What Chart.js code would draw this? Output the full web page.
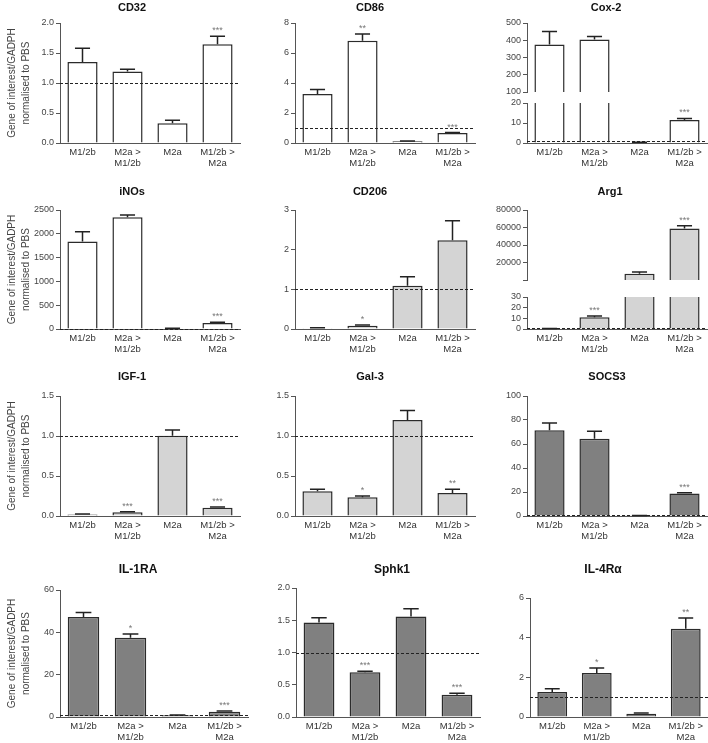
<!DOCTYPE html>
<html>
<head>
<meta charset="utf-8">
<script src="https://cdn.jsdelivr.net/npm/chart.js@4"></script>
<style>
html, body { margin: 0; padding: 0; background: #fff; }
#fig { position: relative; width: 708px; height: 743px; overflow: hidden; }
#fig canvas { position: absolute; }
</style>
</head>
<body>
<div id="fig"></div>
<script>
// categories, shared by every panel
var groups = [['M1/2b'], ['M2a >', 'M1/2b'], ['M2a'], ['M1/2b >', 'M2a']];
var yTitle = ['Gene of interest/GADPH', 'normalised to PBS'];

// CD32
var cd32Mean = [1.35, 1.19, 0.33, 1.645];
var cd32Sem = [0.23, 0.04, 0.05, 0.135];
var cd32Sig = ['', '', '', '***'];
var cd32Ticks = [0, 0.5, 1, 1.5, 2];
var cd32Labels = ['0.0', '0.5', '1.0', '1.5', '2.0'];

// CD86
var cd86Mean = [3.26, 6.82, 0.11, 0.66];
var cd86Sem = [0.3, 0.45, 0.02, 0.04];
var cd86Sig = ['', '**', '', '***'];
var cd86Ticks = [0, 2, 4, 6, 8];
var cd86Labels = ['0', '2', '4', '6', '8'];

// Cox-2 (broken axis)
var cox2Mean = [376, 405, 0.3, 11.5];
var cox2Sem = [75, 17, 0.1, 0.8];
var cox2Sig = ['', '', '', '***'];
var cox2TicksHi = [100, 200, 300, 400, 500];
var cox2LabelsHi = ['100', '200', '300', '400', '500'];
var cox2TicksLo = [0, 10, 20];
var cox2LabelsLo = ['0', '10', '20'];

// iNOs
var inosMean = [1836, 2347, 10, 126];
var inosSem = [209, 48, 6, 18];
var inosSig = ['', '', '', '***'];
var inosTicks = [0, 500, 1000, 1500, 2000, 2500];
var inosLabels = ['0', '500', '1000', '1500', '2000', '2500'];

// CD206
var cd206Mean = [0.02, 0.083, 1.09, 2.24];
var cd206Sem = [0.01, 0.017, 0.23, 0.49];
var cd206Sig = ['', '*', '', ''];
var cd206Ticks = [0, 1, 2, 3];
var cd206Labels = ['0', '1', '2', '3'];

// Arg1 (broken axis)
var arg1Mean = [0.4, 11.1, 7200, 59000];
var arg1Sem = [0.1, 1.0, 2100, 3000];
var arg1Sig = ['', '***', '', '***'];
var arg1TicksHi = [30, 20000, 40000, 60000, 80000];
var arg1LabelsHi = ['', '20000', '40000', '60000', '80000'];
var arg1TicksLo = [0, 10, 20, 30];
var arg1LabelsLo = ['0', '10', '20', '30'];

// IGF-1
var igf1Mean = [0.02, 0.046, 1.004, 0.104];
var igf1Sem = [0.005, 0.008, 0.07, 0.007];
var igf1Sig = ['', '***', '', '***'];
var igf1Ticks = [0, 0.5, 1, 1.5];
var igf1Labels = ['0.0', '0.5', '1.0', '1.5'];

// Gal-3
var gal3Mean = [0.31, 0.233, 1.2, 0.288];
var gal3Sem = [0.025, 0.017, 0.12, 0.047];
var gal3Sig = ['', '*', '', '**'];
var gal3Ticks = [0, 0.5, 1, 1.5];
var gal3Labels = ['0.0', '0.5', '1.0', '1.5'];

// SOCS3
var socs3Mean = [71.4, 64.4, 0.3, 18.8];
var socs3Sem = [6.2, 6.2, 0.1, 0.6];
var socs3Sig = ['', '', '', '***'];
var socs3Ticks = [0, 20, 40, 60, 80, 100];
var socs3Labels = ['0', '20', '40', '60', '80', '100'];

// IL-1RA
var il1raMean = [47.3, 37.5, 0.8, 2.5];
var il1raSem = [2.1, 1.7, 0.1, 0.3];
var il1raSig = ['', '*', '', '***'];
var il1raTicks = [0, 20, 40, 60];
var il1raLabels = ['0', '20', '40', '60'];

// Sphk1
var sphk1Mean = [1.466, 0.694, 1.56, 0.344];
var sphk1Sem = [0.074, 0.016, 0.12, 0.026];
var sphk1Sig = ['', '***', '', '***'];
var sphk1Ticks = [0, 0.5, 1, 1.5, 2];
var sphk1Labels = ['0.0', '0.5', '1.0', '1.5', '2.0'];

// IL-4Ra
var il4raMean = [1.26, 2.22, 0.17, 4.45];
var il4raSem = [0.17, 0.25, 0.03, 0.54];
var il4raSig = ['', '*', '', '**'];
var il4raTicks = [0, 2, 4, 6];
var il4raLabels = ['0', '2', '4', '6'];

var FONT = 'Arial, "Liberation Sans", Helvetica, sans-serif';
var WHITE = '#ffffff', LIGHT = '#d4d4d4', DARK = '#808080';
var fig = document.getElementById('fig');

// ax = y axis x, top/bot = axis ends, w = plot width, tx/ty = title centre
var panels = [
	{title: 'CD32', mean: cd32Mean, sem: cd32Sem, sig: cd32Sig, ticks: cd32Ticks, labels: cd32Labels, fill: WHITE, ax: 60, top: 23, bot: 143, w: 180, tx: 132, ty: 8, ts: 11, yTitle: true},
	{title: 'CD86', mean: cd86Mean, sem: cd86Sem, sig: cd86Sig, ticks: cd86Ticks, labels: cd86Labels, fill: WHITE, ax: 295, top: 23, bot: 143, w: 180, tx: 370, ty: 8, ts: 11},
	{title: 'Cox-2', mean: cox2Mean, sem: cox2Sem, sig: cox2Sig, ticks: cox2TicksHi, labels: cox2LabelsHi, fill: WHITE, ax: 527, top: 23, bot: 100.5, w: 180, tx: 606, ty: 8, ts: 11, showX: false},
	{title: null, mean: cox2Mean, sem: cox2Sem, sig: cox2Sig, ticks: cox2TicksLo, labels: cox2LabelsLo, fill: WHITE, ax: 527, top: 103, bot: 143, w: 180},

	{title: 'iNOs', mean: inosMean, sem: inosSem, sig: inosSig, ticks: inosTicks, labels: inosLabels, fill: WHITE, ax: 60, top: 210, bot: 329, w: 180, tx: 132, ty: 192, ts: 11, yTitle: true},
	{title: 'CD206', mean: cd206Mean, sem: cd206Sem, sig: cd206Sig, ticks: cd206Ticks, labels: cd206Labels, fill: LIGHT, ax: 295, top: 210, bot: 329, w: 180, tx: 370, ty: 192, ts: 11},
	{title: 'Arg1', mean: arg1Mean, sem: arg1Sem, sig: arg1Sig, ticks: arg1TicksHi, labels: arg1LabelsHi, fill: LIGHT, ax: 527, top: 210, bot: 288, w: 180, tx: 610, ty: 192, ts: 11, showX: false},
	{title: null, mean: arg1Mean, sem: arg1Sem, sig: arg1Sig, ticks: arg1TicksLo, labels: arg1LabelsLo, fill: LIGHT, ax: 527, top: 297, bot: 329, w: 180},

	{title: 'IGF-1', mean: igf1Mean, sem: igf1Sem, sig: igf1Sig, ticks: igf1Ticks, labels: igf1Labels, fill: LIGHT, ax: 60, top: 396, bot: 516, w: 180, tx: 132, ty: 377, ts: 11, yTitle: true},
	{title: 'Gal-3', mean: gal3Mean, sem: gal3Sem, sig: gal3Sig, ticks: gal3Ticks, labels: gal3Labels, fill: LIGHT, ax: 295, top: 396, bot: 516, w: 180, tx: 370, ty: 377, ts: 11},
	{title: 'SOCS3', mean: socs3Mean, sem: socs3Sem, sig: socs3Sig, ticks: socs3Ticks, labels: socs3Labels, fill: DARK, ax: 527, top: 396, bot: 516, w: 180, tx: 607, ty: 377, ts: 11},

	{title: 'IL-1RA', mean: il1raMean, sem: il1raSem, sig: il1raSig, ticks: il1raTicks, labels: il1raLabels, fill: DARK, ax: 60, top: 590, bot: 717, w: 188, tx: 138, ty: 570, ts: 12, yTitle: true},
	{title: 'Sphk1', mean: sphk1Mean, sem: sphk1Sem, sig: sphk1Sig, ticks: sphk1Ticks, labels: sphk1Labels, fill: DARK, ax: 296, top: 588, bot: 717, w: 184, tx: 392, ty: 570, ts: 12},
	{title: 'IL-4R\u03b1', mean: il4raMean, sem: il4raSem, sig: il4raSig, ticks: il4raTicks, labels: il4raLabels, fill: DARK, ax: 530, top: 598, bot: 717, w: 178, tx: 603, ty: 570, ts: 12}
];

// error bars, reference line at 1, stars and panel title
function decor(p, left, cTop) {
	return {
		id: 'decor',
		afterDatasetsDraw: function (chart) {
			var ctx = chart.ctx, a = chart.chartArea, y = chart.scales.y;
			var meta = chart.getDatasetMeta(0);
			ctx.save();
			if (1 >= y.min && 1 <= y.max) {
				var yy = Math.round(y.getPixelForValue(1)) + 0.5;
				ctx.strokeStyle = '#222';
				ctx.lineWidth = 1;
				ctx.setLineDash([3, 2]);
				ctx.beginPath();
				ctx.moveTo(a.left, yy);
				ctx.lineTo(a.right, yy);
				ctx.stroke();
				ctx.setLineDash([]);
			}
			meta.data.forEach(function (bar, i) {
				var v = p.mean[i], hi = v + p.sem[i];
				if (hi > y.max || v < y.min) return;
				var yb = y.getPixelForValue(v), yt = y.getPixelForValue(hi);
				var cw = bar.width * 0.5;
				ctx.strokeStyle = '#222';
				ctx.lineWidth = 1.5;
				ctx.beginPath();
				ctx.moveTo(bar.x, yb);
				ctx.lineTo(bar.x, yt);
				ctx.moveTo(bar.x - cw / 2, yt);
				ctx.lineTo(bar.x + cw / 2, yt);
				ctx.stroke();
				if (p.sig[i]) {
					ctx.fillStyle = '#777';
					ctx.font = '9px ' + FONT;
					ctx.textAlign = 'center';
					ctx.textBaseline = 'alphabetic';
					ctx.fillText(p.sig[i], bar.x, yt - 3);
				}
			});
			if (p.title) {
				ctx.fillStyle = '#111';
				ctx.font = 'bold ' + p.ts + 'px ' + FONT;
				ctx.textAlign = 'center';
				ctx.textBaseline = 'middle';
				ctx.fillText(p.title, p.tx - left, p.ty - cTop);
			}
			ctx.restore();
		}
	};
}

function makeChart(p) {
	var yw = p.yTitle ? p.ax : 40;
	var left = p.ax - yw;
	var showX = p.showX !== false;
	var cTop = p.title ? Math.max(0, p.ty - 10) : Math.floor(p.top) - 8;
	var cBot = showX ? p.bot + 32 : Math.ceil(p.bot) + 8;
	var width = Math.min(708 - left, yw + p.w + 1);
	var height = Math.round(cBot - cTop);

	var cv = document.createElement('canvas');
	cv.width = width;
	cv.height = height;
	cv.style.left = left + 'px';
	cv.style.top = cTop + 'px';
	cv.style.width = width + 'px';
	cv.style.height = height + 'px';
	fig.appendChild(cv);

	new Chart(cv, {
		type: 'bar',
		data: {
			labels: groups,
			datasets: [{
				data: p.mean,
				backgroundColor: p.fill,
				borderColor: '#2b2b2b',
				borderWidth: 1.5,
				borderSkipped: 'start',
				barPercentage: 0.67,
				categoryPercentage: 1
			}]
		},
		options: {
			responsive: false,
			animation: false,
			devicePixelRatio: 1,
			layout: {
				padding: {top: p.top - cTop, bottom: showX ? 0 : cBot - p.bot, left: 0, right: width - yw - p.w}
			},
			plugins: {
				legend: {display: false},
				tooltip: {enabled: false},
				title: {display: false}
			},
			scales: {
				x: {
					display: showX,
					offset: true,
					grid: {display: false, drawTicks: false},
					border: {color: '#555', width: 1},
					ticks: {color: '#333', font: {family: FONT, size: 9.5, lineHeight: 1.15}, padding: 4, maxRotation: 0, autoSkip: false},
					afterFit: function (s) { s.height = cBot - p.bot; }
				},
				y: {
					min: p.ticks[0],
					max: p.ticks[p.ticks.length - 1],
					afterBuildTicks: function (s) { s.ticks = p.ticks.map(function (v) { return {value: v}; }); },
					afterFit: function (s) { s.width = yw; },
					grid: {drawOnChartArea: false, drawTicks: true, tickLength: 4, color: '#555'},
					border: {color: '#555', width: 1},
					ticks: {color: '#444', font: {family: FONT, size: 9}, padding: 2, autoSkip: false, callback: function (v, i) { return p.labels[i]; }},
					title: {display: !!p.yTitle, text: yTitle, color: '#444', font: {family: FONT, size: 10, lineHeight: 1.4}, padding: {top: 5, bottom: 0}}
				}
			}
		},
		plugins: [decor(p, left, cTop)]
	});
}

panels.forEach(makeChart);
</script>
</body>
</html>
